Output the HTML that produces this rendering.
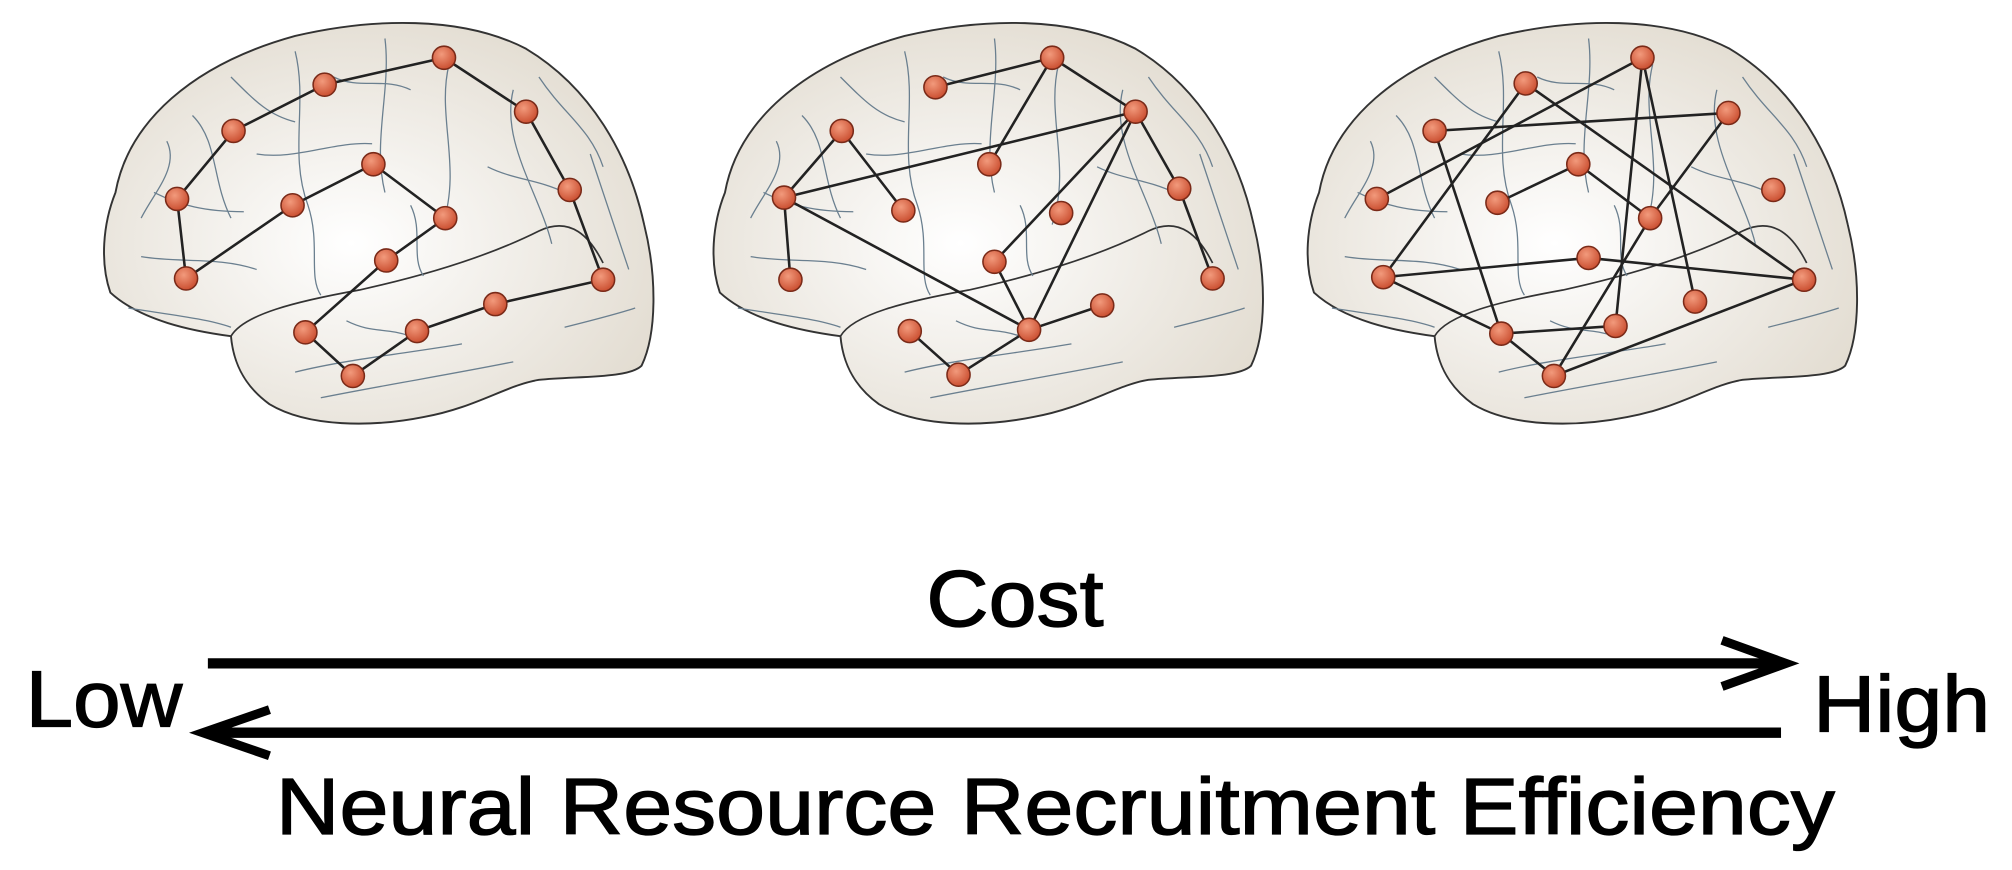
<!DOCTYPE html>
<html><head><meta charset="utf-8"><style>html,body{margin:0;padding:0;background:#fff}svg{display:block}</style></head>
<body>
<svg width="2012" height="870" viewBox="0 0 1568 678" xmlns="http://www.w3.org/2000/svg">
<defs>
<radialGradient id="bg" cx="0.45" cy="0.55" r="0.6">
<stop offset="0" stop-color="#ffffff"/><stop offset="1" stop-color="#e3ddd2"/>
</radialGradient>
<radialGradient id="nd" cx="0.4" cy="0.35" r="0.7">
<stop offset="0" stop-color="#f29a7c"/><stop offset="1" stop-color="#c84a2c"/>
</radialGradient>
<g id="brain">
<path d="M90,150 C100,95 150,50 230,28 C290,14 360,12 410,38 C460,68 490,120 502,175 C512,215 512,260 500,285 C490,295 450,293 420,296 C395,300 370,318 330,325 C290,333 240,333 210,315 C192,302 182,285 180,262 C150,258 110,250 86,228 C78,205 80,175 90,150 Z" fill="url(#bg)" stroke="#333" stroke-width="1.5"/>
<path d="M180,262 C190,245 230,235 280,226 C330,215 380,200 420,180 C445,168 460,185 470,205" fill="none" stroke="#333" stroke-width="1.3"/>
<g fill="none" stroke="#6a7f8f" stroke-width="1">
<path d="M150,90 C170,110 165,140 180,170"/><path d="M230,40 C240,80 225,120 240,160 C250,190 240,215 250,230"/>
<path d="M300,30 C305,70 290,110 300,150"/><path d="M350,50 C340,90 360,130 345,175"/>
<path d="M400,70 C390,110 420,150 430,190"/><path d="M120,150 C140,160 160,165 190,165"/>
<path d="M200,120 C230,125 260,110 290,112"/><path d="M110,200 C140,205 170,200 200,210"/>
<path d="M230,290 C270,280 320,275 360,268"/><path d="M250,310 C300,300 350,292 400,282"/>
<path d="M440,255 C460,250 480,245 495,240"/><path d="M260,60 C280,70 300,60 320,70"/>
<path d="M380,130 C400,140 420,140 440,150"/><path d="M460,120 C470,150 480,180 490,210"/>
<path d="M100,240 C130,245 160,248 180,255"/><path d="M320,160 C330,180 320,200 330,215"/>
<path d="M180,60 C200,80 210,90 230,95"/><path d="M130,110 C140,130 120,150 110,170"/>
<path d="M420,60 C440,90 460,100 470,130"/><path d="M270,250 C290,260 300,255 320,262"/>
</g>
</g>
<g id="n"><circle r="9" fill="url(#nd)" stroke="#7a2a18" stroke-width="1.2"/></g>
</defs>
<use href="#brain"/>
<use href="#brain" transform="translate(475,0)"/>
<use href="#brain" transform="translate(938,0)"/>
<g stroke="#222" stroke-width="2" fill="none">
<polyline points="138,155 182,102 253,66 346,45 410,87 444,148 470,218 386,237 325,258 275,293 238,259 301,203 347,170 291,128 228,160 145,217 138,155"/>
<line x1="611" y1="154" x2="656" y2="102"/><line x1="656" y1="102" x2="704" y2="164"/>
<line x1="729" y1="68" x2="820" y2="45"/><line x1="820" y1="45" x2="771" y2="128"/>
<line x1="820" y1="45" x2="885" y2="87"/><line x1="885" y1="87" x2="611" y2="154"/>
<line x1="885" y1="87" x2="919" y2="147"/><line x1="919" y1="147" x2="945" y2="217"/>
<line x1="885" y1="87" x2="802" y2="257"/><line x1="885" y1="87" x2="775" y2="204"/>
<line x1="775" y1="204" x2="802" y2="257"/><line x1="611" y1="154" x2="802" y2="257"/>
<line x1="802" y1="257" x2="859" y2="238"/><line x1="802" y1="257" x2="747" y2="292"/>
<line x1="747" y1="292" x2="709" y2="258"/><line x1="611" y1="154" x2="616" y2="218"/>
<line x1="1073" y1="155" x2="1280" y2="45"/><line x1="1118" y1="102" x2="1347" y2="88"/>
<line x1="1189" y1="65" x2="1406" y2="218"/><line x1="1118" y1="102" x2="1170" y2="260"/>
<line x1="1280" y1="45" x2="1259" y2="254"/><line x1="1280" y1="45" x2="1321" y2="235"/>
<line x1="1189" y1="65" x2="1078" y2="216"/><line x1="1167" y1="158" x2="1230" y2="128"/>
<line x1="1230" y1="128" x2="1286" y2="170"/><line x1="1347" y1="88" x2="1286" y2="170"/>
<line x1="1286" y1="170" x2="1211" y2="293"/><line x1="1078" y1="216" x2="1238" y2="201"/>
<line x1="1238" y1="201" x2="1406" y2="218"/><line x1="1078" y1="216" x2="1170" y2="260"/>
<line x1="1170" y1="260" x2="1259" y2="254"/><line x1="1211" y1="293" x2="1406" y2="218"/>
<line x1="1170" y1="260" x2="1211" y2="293"/>
</g>
<g>
<use href="#n" x="253" y="66"/><use href="#n" x="346" y="45"/><use href="#n" x="410" y="87"/><use href="#n" x="182" y="102"/>
<use href="#n" x="444" y="148"/><use href="#n" x="138" y="155"/><use href="#n" x="291" y="128"/><use href="#n" x="228" y="160"/>
<use href="#n" x="347" y="170"/><use href="#n" x="301" y="203"/><use href="#n" x="145" y="217"/><use href="#n" x="470" y="218"/>
<use href="#n" x="238" y="259"/><use href="#n" x="325" y="258"/><use href="#n" x="386" y="237"/><use href="#n" x="275" y="293"/>
<use href="#n" x="729" y="68"/><use href="#n" x="820" y="45"/><use href="#n" x="885" y="87"/><use href="#n" x="656" y="102"/>
<use href="#n" x="771" y="128"/><use href="#n" x="611" y="154"/><use href="#n" x="704" y="164"/><use href="#n" x="919" y="147"/>
<use href="#n" x="827" y="166"/><use href="#n" x="775" y="204"/><use href="#n" x="616" y="218"/><use href="#n" x="945" y="217"/>
<use href="#n" x="859" y="238"/><use href="#n" x="709" y="258"/><use href="#n" x="802" y="257"/><use href="#n" x="747" y="292"/>
<use href="#n" x="1189" y="65"/><use href="#n" x="1280" y="45"/><use href="#n" x="1347" y="88"/><use href="#n" x="1118" y="102"/>
<use href="#n" x="1230" y="128"/><use href="#n" x="1073" y="155"/><use href="#n" x="1167" y="158"/><use href="#n" x="1286" y="170"/>
<use href="#n" x="1382" y="148"/><use href="#n" x="1238" y="201"/><use href="#n" x="1078" y="216"/><use href="#n" x="1406" y="218"/>
<use href="#n" x="1321" y="235"/><use href="#n" x="1170" y="260"/><use href="#n" x="1259" y="254"/><use href="#n" x="1211" y="293"/>
</g>
<g stroke="#000" stroke-width="8" fill="none">
<line x1="162" y1="517" x2="1390" y2="517"/>
<polyline points="1342,499 1392,517 1342,535" stroke-width="7"/>
<line x1="1388" y1="571" x2="160" y2="571"/>
<polyline points="210,553 158,571 210,589" stroke-width="7"/>
</g>
<g font-family="Liberation Sans, Arial, sans-serif" fill="#000" stroke="#000" stroke-width="1" font-size="62">
<text x="722" y="488" textLength="138" lengthAdjust="spacingAndGlyphs">Cost</text>
<text x="20" y="566" textLength="122" lengthAdjust="spacingAndGlyphs">Low</text>
<text x="1413" y="570" textLength="138" lengthAdjust="spacingAndGlyphs">High</text>
<text x="215" y="650" textLength="1215" lengthAdjust="spacingAndGlyphs">Neural Resource Recruitment Efficiency</text>
</g>
</svg>
</body></html>
